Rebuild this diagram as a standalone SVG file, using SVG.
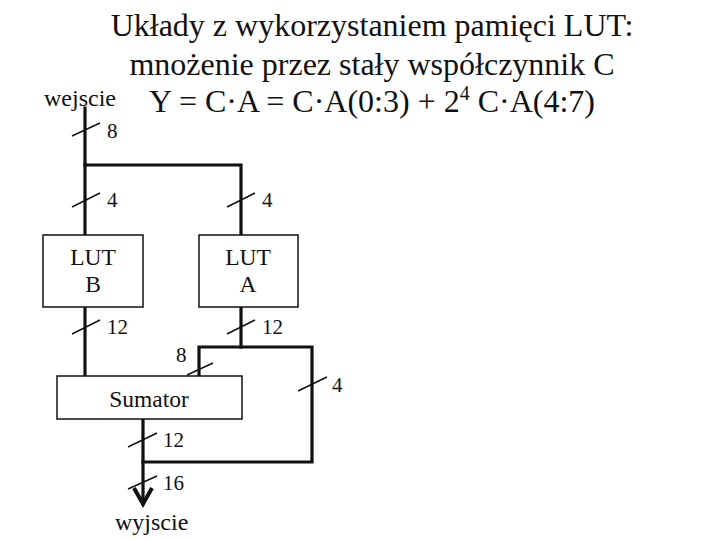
<svg xmlns="http://www.w3.org/2000/svg" width="720" height="540" viewBox="0 0 720 540">
<style>
text{font-family:"Liberation Serif","Times New Roman",serif;fill:#111}
.t{font-size:32px;text-anchor:middle}
.l{font-size:21px}
.io{font-size:24px}
.b{font-size:23.5px;text-anchor:middle}
.w{fill:none;stroke:#111;stroke-width:3.2;stroke-linecap:square}
.s{stroke:#111;stroke-width:1.5}
.box{fill:#fff;stroke:#111;stroke-width:1.5}
</style>
<rect width="720" height="540" fill="#fff"/>
<g id="title">
<text class="t" x="372" y="36">Układy z wykorzystaniem pamięci LUT:</text>
<text class="t" x="372" y="75">mnożenie przez stały współczynnik C</text>
<text class="t" x="372" y="112">Y = C·A = C·A(0:3) + 2<tspan font-size="20" dy="-12">4</tspan><tspan dy="12"> C·A(4:7)</tspan></text>
</g>
<g id="connectors">
<polyline class="w" points="85,108 85,165 241,165 241,235"/>
<line class="w" x1="85" y1="165" x2="85" y2="235"/>
<line class="w" x1="85" y1="307" x2="85" y2="376"/>
<polyline class="w" points="241,307 241,347"/>
<polyline class="w" points="199,376 199,347 312,347 312,462 143,462"/>
<line class="w" x1="143" y1="419" x2="143" y2="503"/>
<polyline points="134,488 143,504 152,488" fill="none" stroke="#111" stroke-width="4" stroke-linejoin="miter"/>
<line class="s" x1="72" y1="136" x2="100" y2="123"/>
<line class="s" x1="72" y1="207" x2="100" y2="193"/>
<line class="s" x1="227" y1="207" x2="255" y2="193"/>
<line class="s" x1="72" y1="334" x2="100" y2="320"/>
<line class="s" x1="227" y1="334" x2="255" y2="320"/>
<line class="s" x1="187" y1="375" x2="213" y2="363"/>
<line class="s" x1="298" y1="391" x2="327" y2="377"/>
<line class="s" x1="128" y1="447" x2="157" y2="433"/>
<line class="s" x1="128" y1="489" x2="157" y2="476"/>
<text class="l" x="107" y="138">8</text>
<text class="l" x="107" y="207">4</text>
<text class="l" x="262" y="207">4</text>
<text class="l" x="107" y="334">12</text>
<text class="l" x="262" y="334">12</text>
<text class="l" x="176" y="362">8</text>
<text class="l" x="332" y="392">4</text>
<text class="l" x="163" y="447">12</text>
<text class="l" x="163" y="490">16</text>
</g>
<g id="wejscie"><text class="io" x="44" y="106">wejscie</text></g>
<g id="wyjscie"><text class="io" x="115" y="530">wyjscie</text></g>
<g id="lutB">
<rect class="box" x="43" y="235" width="100" height="72"/>
<text class="b" x="93" y="265">LUT</text>
<text class="b" x="93" y="292">B</text>
</g>
<g id="lutA">
<rect class="box" x="199" y="235" width="99" height="72"/>
<text class="b" x="248" y="265">LUT</text>
<text class="b" x="248" y="292">A</text>
</g>
<g id="sumator">
<rect class="box" x="57" y="376" width="185" height="43"/>
<text class="b" x="149" y="407">Sumator</text>
</g>
</svg>
